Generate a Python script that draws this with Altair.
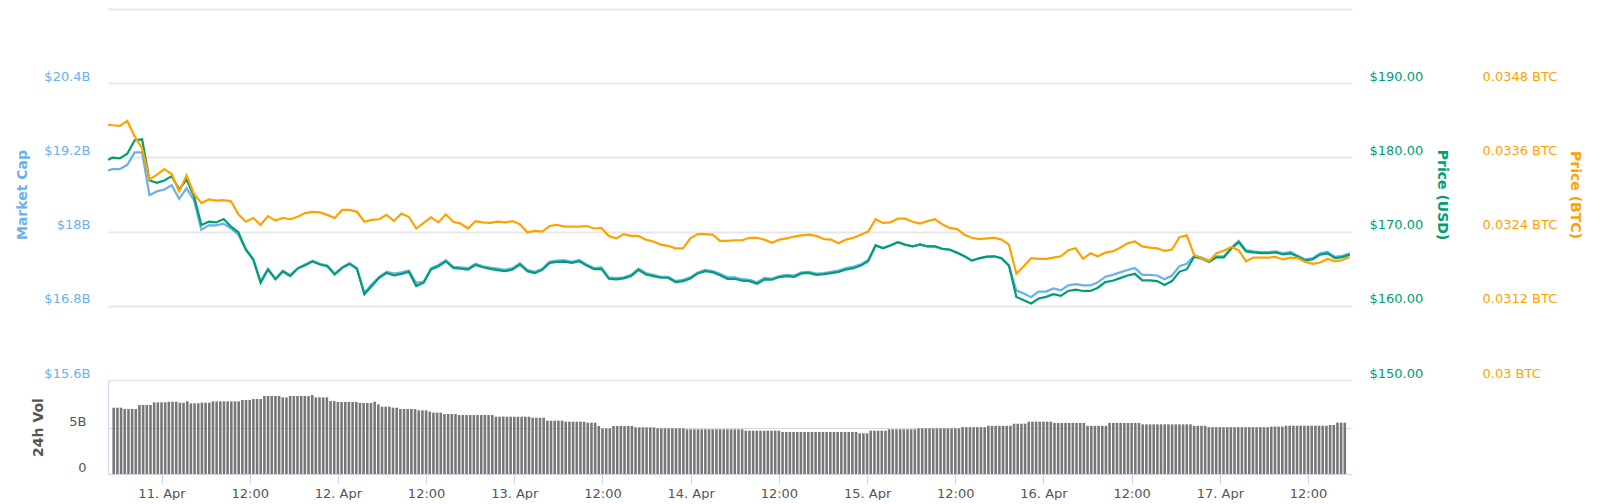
import altair as alt
import pandas as pd

# ---- data (hours since 10 Apr 00:00) ----
hours = [17.4] + list(range(18, 186))

market_cap_b = [
    18.99, 19.01, 19.01, 19.08, 19.28, 19.28, 18.59, 18.65, 18.68, 18.75, 18.53, 18.70, 18.51,
    18.03, 18.10, 18.10, 18.13, 18.05, 17.95, 17.72, 17.56, 17.20, 17.40, 17.24, 17.37, 17.30,
    17.41, 17.47, 17.53, 17.48, 17.45, 17.32, 17.42, 17.49, 17.41, 17.01, 17.15, 17.27, 17.35,
    17.32, 17.34, 17.37, 17.17, 17.19, 17.41, 17.46, 17.54, 17.43, 17.42, 17.41, 17.48, 17.44,
    17.42, 17.40, 17.38, 17.41, 17.49, 17.38, 17.35, 17.40, 17.51, 17.53, 17.54, 17.51, 17.54,
    17.47, 17.41, 17.42, 17.26, 17.25, 17.26, 17.30, 17.40, 17.33, 17.30, 17.27, 17.27, 17.20,
    17.22, 17.26, 17.34, 17.38, 17.36, 17.32, 17.26, 17.26, 17.23, 17.22, 17.18, 17.25, 17.24,
    17.28, 17.30, 17.29, 17.34, 17.35, 17.32, 17.33, 17.35, 17.37, 17.41, 17.43, 17.47, 17.54,
    17.78, 17.73, 17.78, 17.83, 17.79, 17.76, 17.79, 17.76, 17.76, 17.72, 17.71, 17.66, 17.60,
    17.53, 17.57, 17.59, 17.60, 17.57, 17.45, 17.05, 17.00, 16.94, 17.03, 17.03, 17.08, 17.05,
    17.13, 17.15, 17.13, 17.13, 17.18, 17.27, 17.30, 17.34, 17.38, 17.41, 17.30, 17.30, 17.29,
    17.23, 17.29, 17.44, 17.48, 17.61, 17.58, 17.53, 17.60, 17.60, 17.74, 17.85, 17.70, 17.68,
    17.67, 17.67, 17.68, 17.65, 17.67, 17.61, 17.55, 17.57, 17.65, 17.67, 17.59, 17.61, 17.65,
]

price_usd = [
    179.69, 179.96, 179.87, 180.49, 182.31, 182.44, 176.89, 176.58, 176.89, 177.47, 175.69, 177.02, 174.80,
    170.89, 171.33, 171.24, 171.69, 170.67, 169.91, 167.56, 166.22, 163.11, 164.89, 163.56, 164.62, 164.00,
    165.02, 165.47, 165.96, 165.56, 165.33, 164.22, 165.11, 165.64, 164.98, 161.56, 162.67, 163.78, 164.44,
    164.09, 164.31, 164.58, 162.67, 163.11, 164.89, 165.33, 166.00, 165.11, 165.02, 164.89, 165.51, 165.20,
    164.98, 164.80, 164.67, 164.89, 165.56, 164.67, 164.40, 164.84, 165.78, 165.91, 165.96, 165.78, 166.00,
    165.42, 164.93, 164.98, 163.64, 163.56, 163.69, 164.00, 164.84, 164.22, 164.00, 163.78, 163.78, 163.20,
    163.33, 163.69, 164.36, 164.67, 164.53, 164.13, 163.64, 163.64, 163.38, 163.33, 162.98, 163.56, 163.51,
    163.87, 164.00, 163.91, 164.36, 164.44, 164.18, 164.27, 164.40, 164.58, 164.89, 165.07, 165.42, 166.00,
    168.13, 167.78, 168.13, 168.58, 168.22, 168.00, 168.27, 168.00, 168.00, 167.69, 167.56, 167.16, 166.67,
    166.09, 166.40, 166.62, 166.67, 166.40, 165.42, 161.20, 160.76, 160.31, 160.98, 161.20, 161.56, 161.33,
    162.00, 162.18, 162.00, 162.00, 162.44, 163.20, 163.38, 163.73, 164.09, 164.31, 163.42, 163.42, 163.33,
    162.80, 163.33, 164.58, 164.93, 166.62, 166.36, 165.91, 166.53, 166.53, 167.69, 168.58, 167.33, 167.20,
    167.11, 167.11, 167.20, 166.93, 167.07, 166.62, 166.09, 166.27, 166.89, 167.07, 166.44, 166.55, 166.90,
]

price_btc = [
    0.03413, 0.03412, 0.03411, 0.03419, 0.03394, 0.03375, 0.03324, 0.03332, 0.03341, 0.03333, 0.03305, 0.03331, 0.03301,
    0.03286, 0.03292, 0.03290, 0.03291, 0.03289, 0.03268, 0.03256, 0.03262, 0.03251, 0.03265, 0.03258, 0.03262, 0.03260,
    0.03264, 0.03270, 0.03272, 0.03271, 0.03267, 0.03262, 0.03275, 0.03275, 0.03272, 0.03256, 0.03259, 0.03260, 0.03267,
    0.03257, 0.03269, 0.03264, 0.03245, 0.03254, 0.03263, 0.03255, 0.03268, 0.03256, 0.03253, 0.03245, 0.03257, 0.03255,
    0.03254, 0.03256, 0.03255, 0.03257, 0.03252, 0.03239, 0.03241, 0.03240, 0.03249, 0.03251, 0.03248, 0.03248, 0.03248,
    0.03249, 0.03245, 0.03246, 0.03233, 0.03229, 0.03236, 0.03233, 0.03233, 0.03227, 0.03224, 0.03219, 0.03217, 0.03213,
    0.03213, 0.03229, 0.03236, 0.03236, 0.03235, 0.03225, 0.03225, 0.03226, 0.03226, 0.03230, 0.03230, 0.03227, 0.03222,
    0.03227, 0.03229, 0.03232, 0.03234, 0.03235, 0.03233, 0.03228, 0.03227, 0.03221, 0.03227, 0.03230, 0.03235, 0.03240,
    0.03260, 0.03254, 0.03255, 0.03261, 0.03261, 0.03256, 0.03253, 0.03257, 0.03260, 0.03252, 0.03246, 0.03244, 0.03235,
    0.03230, 0.03228, 0.03229, 0.03230, 0.03227, 0.03219, 0.03172, 0.03184, 0.03197, 0.03196, 0.03196, 0.03198, 0.03200,
    0.03210, 0.03213, 0.03196, 0.03205, 0.03200, 0.03206, 0.03208, 0.03214, 0.03221, 0.03224, 0.03216, 0.03214, 0.03213,
    0.03209, 0.03211, 0.03231, 0.03234, 0.03202, 0.03197, 0.03192, 0.03205, 0.03209, 0.03215, 0.03210, 0.03192, 0.03198,
    0.03198, 0.03198, 0.03199, 0.03195, 0.03198, 0.03197, 0.03191, 0.03188, 0.03190, 0.03196, 0.03192, 0.03194, 0.03199,
]

vol_hours = [17.5 + 0.5 * i for i in range(336)]
volume_b = [
    7.21, 7.21, 7.21, 7.07, 7.07, 7.07, 7.07, 7.50, 7.50, 7.50, 7.50, 7.79, 7.79, 7.79, 7.79, 7.86, 7.86, 7.86, 7.75, 7.75, 7.90, 7.68, 7.68, 7.68,
    7.75, 7.75, 7.75, 7.90, 7.90, 7.90, 7.90, 7.90, 7.90, 7.90, 7.90, 8.04, 8.04, 8.04, 8.15, 8.15, 8.15, 8.48, 8.48, 8.48, 8.48, 8.48, 8.33, 8.33,
    8.48, 8.48, 8.48, 8.48, 8.48, 8.48, 8.59, 8.33, 8.33, 8.33, 8.33, 7.93, 7.93, 7.83, 7.83, 7.83, 7.83, 7.83, 7.83, 7.72, 7.72, 7.72, 7.72, 7.86,
    7.57, 7.32, 7.32, 7.32, 7.21, 7.21, 7.07, 7.07, 7.07, 7.07, 7.07, 6.92, 6.92, 6.92, 6.78, 6.67, 6.67, 6.67, 6.52, 6.52, 6.52, 6.52, 6.41, 6.41,
    6.41, 6.41, 6.41, 6.41, 6.41, 6.41, 6.41, 6.41, 6.23, 6.23, 6.23, 6.23, 6.23, 6.23, 6.23, 6.23, 6.23, 6.23, 6.12, 6.12, 6.12, 6.12, 5.80, 5.80,
    5.80, 5.80, 5.80, 5.69, 5.69, 5.69, 5.69, 5.69, 5.69, 5.58, 5.58, 5.58, 5.22, 4.96, 4.96, 4.96, 5.22, 5.22, 5.22, 5.22, 5.22, 5.22, 5.07, 5.07,
    5.07, 5.07, 5.07, 5.07, 4.96, 4.96, 4.96, 4.96, 4.96, 4.96, 4.96, 4.96, 4.86, 4.86, 4.86, 4.86, 4.86, 4.86, 4.86, 4.86, 4.86, 4.86, 4.86, 4.86,
    4.86, 4.86, 4.86, 4.86, 4.71, 4.71, 4.71, 4.71, 4.71, 4.71, 4.71, 4.71, 4.71, 4.71, 4.57, 4.57, 4.57, 4.57, 4.57, 4.57, 4.57, 4.57, 4.57, 4.57,
    4.57, 4.57, 4.57, 4.57, 4.57, 4.57, 4.57, 4.57, 4.57, 4.57, 4.57, 4.42, 4.42, 4.42, 4.71, 4.71, 4.71, 4.71, 4.71, 4.86, 4.86, 4.86, 4.86, 4.86,
    4.86, 4.86, 4.86, 4.96, 4.96, 4.96, 4.96, 4.96, 4.96, 4.96, 4.96, 4.96, 4.96, 4.96, 4.96, 5.09, 5.09, 5.09, 5.09, 5.09, 5.09, 5.09, 5.24, 5.24,
    5.24, 5.24, 5.24, 5.24, 5.24, 5.47, 5.47, 5.47, 5.47, 5.69, 5.69, 5.69, 5.69, 5.69, 5.69, 5.69, 5.55, 5.55, 5.55, 5.55, 5.55, 5.55, 5.55, 5.55,
    5.55, 5.24, 5.24, 5.24, 5.24, 5.24, 5.24, 5.55, 5.55, 5.55, 5.55, 5.55, 5.55, 5.55, 5.55, 5.55, 5.40, 5.40, 5.40, 5.40, 5.40, 5.40, 5.40, 5.40,
    5.40, 5.40, 5.40, 5.40, 5.40, 5.40, 5.24, 5.24, 5.24, 5.24, 5.09, 5.09, 5.09, 5.09, 5.09, 5.09, 5.09, 5.09, 5.09, 5.09, 5.09, 5.09, 5.09, 5.09,
    5.09, 5.09, 5.09, 5.15, 5.15, 5.15, 5.15, 5.25, 5.25, 5.25, 5.25, 5.25, 5.25, 5.25, 5.25, 5.25, 5.25, 5.25, 5.25, 5.33, 5.33, 5.58, 5.58, 5.58,
]

x_ticks = [24, 36, 48, 60, 72, 84, 96, 108, 120, 132, 144, 156, 168, 180]
cap_ticks = [15.6, 16.8, 18.0, 19.2, 20.4, 21.6]
usd_ticks = [150, 160, 170, 180, 190, 200]
btc_ticks = [0.03, 0.0312, 0.0324, 0.0336, 0.0348, 0.036]
vol_ticks = [0, 5]

BLUE = "#6cb0ea"
GREEN = "#009e73"
ORANGE = "#ffa200"
FONT = "DejaVu Sans"

df = pd.DataFrame({"h": hours, "cap": market_cap_b, "usd": price_usd, "btc": price_btc})
vdf = pd.DataFrame({"h": vol_hours, "vol": volume_b})

xs = alt.Scale(domain=[17.4, 185.3], nice=False, zero=False)

base = alt.Chart(df)

cap_line = base.mark_line(color=BLUE, strokeWidth=2.2, clip=True).encode(
    x=alt.X("h:Q", scale=xs, axis=None),
    y=alt.Y("cap:Q", scale=alt.Scale(domain=[15.6, 21.6], nice=False, zero=False),
            axis=alt.Axis(orient="left", values=cap_ticks,
                          labelExpr="datum.value > 21 ? '' : '$' + format(datum.value, '.1~f') + 'B'",
                          title="Market Cap", titleColor=BLUE, titleFontSize=14, titleFontWeight="bold",
                          titlePadding=14, labelColor=BLUE, labelFontSize=13, labelPadding=18,
                          labelOffset=-7, labelBaseline="middle", ticks=False, domain=False,
                          grid=True, gridColor="#e8e8e8", gridWidth=2)),
)

usd_line = base.mark_line(color=GREEN, strokeWidth=2.2, clip=True).encode(
    x=alt.X("h:Q", scale=xs, axis=None),
    y=alt.Y("usd:Q", scale=alt.Scale(domain=[150, 200], nice=False, zero=False),
            axis=alt.Axis(orient="right", values=usd_ticks,
                          labelExpr="datum.value > 195 ? '' : '$' + format(datum.value, '.2f')",
                          title="Price (USD)", titleColor=GREEN, titleFontSize=14, titleFontWeight="bold",
                          titlePadding=12, labelColor=GREEN, labelFontSize=13, labelPadding=17,
                          labelOffset=-7, labelBaseline="middle", ticks=False, domain=False, grid=False)),
)

btc_line = base.mark_line(color=ORANGE, strokeWidth=2.2, clip=True).encode(
    x=alt.X("h:Q", scale=xs, axis=None),
    y=alt.Y("btc:Q", scale=alt.Scale(domain=[0.03, 0.036], nice=False, zero=False),
            axis=alt.Axis(orient="right", values=btc_ticks, offset=110,
                          labelExpr="datum.value > 0.0355 ? '' : format(datum.value, '~g') + ' BTC'",
                          title="Price (BTC)", titleColor=ORANGE, titleFontSize=14, titleFontWeight="bold",
                          titlePadding=11, labelColor=ORANGE, labelFontSize=13, labelPadding=20,
                          labelOffset=-7, labelBaseline="middle", ticks=False, domain=False, grid=False)),
)

top = alt.layer(cap_line, usd_line, btc_line).resolve_scale(y="independent").properties(width=1244, height=371)

bars = alt.Chart(vdf).mark_bar(color="#777777", size=2.6, clip=True).encode(
    x=alt.X("h:Q", scale=xs,
            axis=alt.Axis(values=x_ticks, title=None, grid=False,
                          labelExpr="datum.value % 24 == 0 ? (datum.value / 24 + 10) + '. Apr' : '12:00'",
                          labelColor="#555555", labelFontSize=13, labelPadding=3,
                          tickColor="#ccd6eb", tickSize=10, domainColor="#ccd6eb", labelFlush=False)),
    y=alt.Y("vol:Q", scale=alt.Scale(domain=[0, 10.22], nice=False, zero=True),
            axis=alt.Axis(values=vol_ticks,
                          labelExpr="datum.value == 0 ? '0' : datum.value + 'B'",
                          title="24h Vol", titleColor="#555555", titleFontSize=14, titleFontWeight="bold",
                          titlePadding=23, labelColor="#555555", labelFontSize=13, labelPadding=22,
                          labelOffset=-7, labelBaseline="middle", ticks=False,
                          domain=True, domainColor="#ccd6eb",
                          grid=True, gridColor="#d8d8d8", gridWidth=1)),
).properties(width=1244, height=94)

chart = alt.vconcat(top, bars, spacing=0).properties(
    padding={"left": 7, "top": 1, "right": 6, "bottom": 0}
).configure_view(strokeWidth=0, stroke="transparent").configure_axis(labelFont=FONT, titleFont=FONT)

chart.save("out.html", embed_options={"renderer": "svg", "actions": False})
